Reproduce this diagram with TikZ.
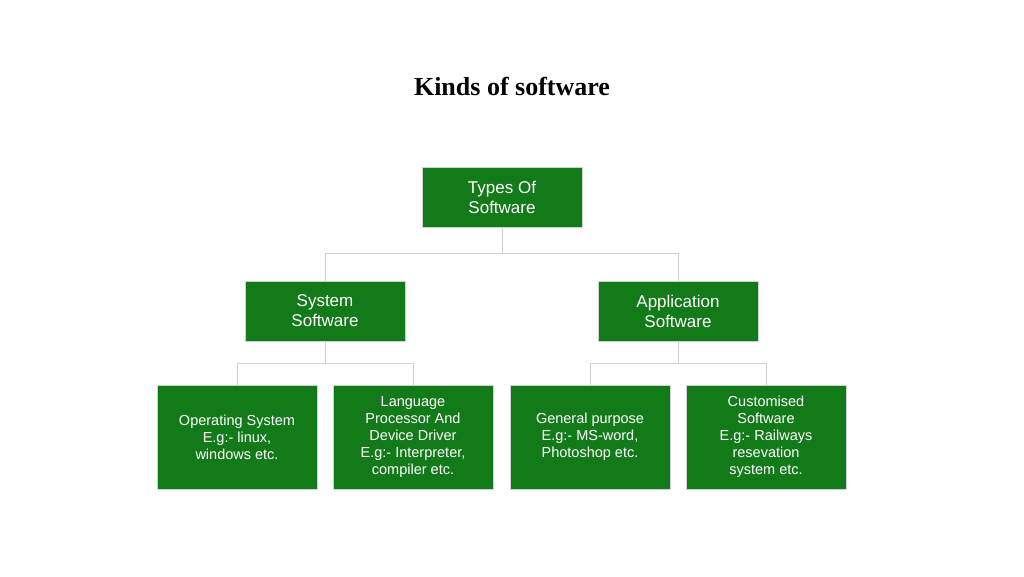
\documentclass[tikz,border=0pt]{standalone}
\usepackage{fontspec}
\setmainfont{Liberation Sans}
\newfontfamily\titlefont{Liberation Serif}
\definecolor{boxgreen}{HTML}{137A1A}
\definecolor{linegray}{HTML}{D0D0D0}
\begin{document}
\begin{tikzpicture}[x=1pt,y=-1pt,
  box/.style={fill=boxgreen,draw=linegray,line width=0.6pt,text=white,align=center,minimum width=160pt,inner sep=2pt},
  mid/.style={box,minimum height=60pt,font=\fontsize{17}{20}\selectfont},
  leaf/.style={box,minimum height=104pt,font=\fontsize{14.5}{17}\selectfont},
  conn/.style={draw=linegray,line width=1pt}]
\useasboundingbox (0,0) rectangle (1024,576);
\node[font=\titlefont\bfseries\fontsize{26}{30}\selectfont] (title) at (512,86) {Kinds of software};
\node[mid] (top) at (502,197) {Types Of\\Software};
\node[mid] (sys) at (325,311) {System\\Software};
\node[mid] (app) at (678,311) {Application\\Software};
\node[leaf] (l1) at (237,437) {Operating System\\E.g:- linux,\\windows etc.};
\node[leaf] (l2) at (413,437) {Language\\Processor And\\Device Driver\\E.g:- Interpreter,\\compiler etc.};
\node[leaf] (l3) at (590,437) {General purpose\\E.g:- MS-word,\\Photoshop etc.};
\node[leaf] (l4) at (766,437) {Customised\\Software\\E.g:- Railways\\resevation\\system etc.};
\coordinate (j0) at (502,253);
\coordinate (j1) at (325,363);
\coordinate (j2) at (678,363);
\draw[conn] (top.south) -- (j0);
\draw[conn] (j0) -| (sys.north);
\draw[conn] (j0) -| (app.north);
\draw[conn] (sys.south) -- (j1);
\draw[conn] (j1) -| (l1.north);
\draw[conn] (j1) -| (l2.north);
\draw[conn] (app.south) -- (j2);
\draw[conn] (j2) -| (l3.north);
\draw[conn] (j2) -| (l4.north);
\end{tikzpicture}
\end{document}
